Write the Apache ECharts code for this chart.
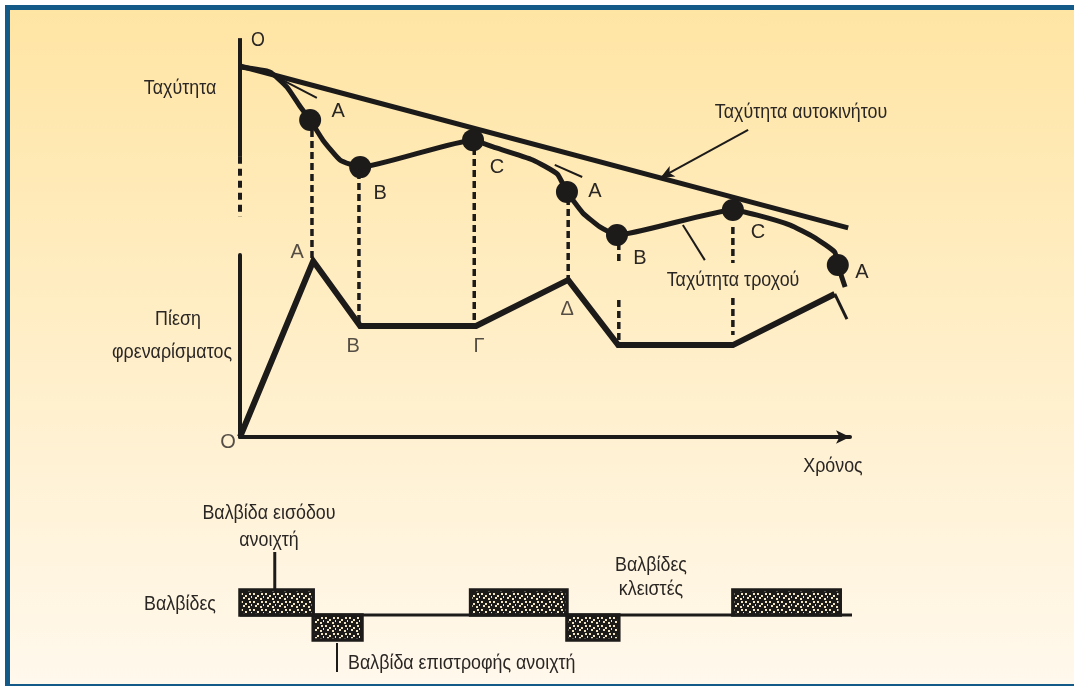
<!DOCTYPE html>
<html>
<head>
<meta charset="utf-8" />
<script type="text/javascript" src="https://cdn.jsdelivr.net/npm/echarts@6/dist/echarts.min.js"></script>
<title>ABS</title>
<style>
html,body{margin:0;padding:0;background:#fff;overflow:hidden;}
#frame{position:absolute;left:5px;top:5px;width:1069px;height:681px;box-sizing:border-box;
  border-top:5px solid #135a89;border-left:5px solid #135a89;border-bottom:2px solid #135a89;
  background:linear-gradient(#ffe5a4,#fff8ec);}
#chart{position:absolute;left:0;top:0;width:1074px;height:686px;}
</style>
<script>
// Ταχύτητα αυτοκινήτου (χρόνος 0..100)
var carTime = [0, 99.7];
var carSpeed = [91.6, 39.4];

// Ταχύτητα τροχού
var wheelTime  = [0, 4.9, 7.7, 9.8, 11.5, 13.6, 16.4, 19.7, 38.2, 41.5, 48, 52, 53.6, 56.2, 59, 61.8, 80.8, 84.8, 90.2, 94, 97.5, 98, 99.2];
var wheelSpeed = [91.3, 89.7, 84.8, 78.7, 74.2, 67.7, 61.3, 59, 67.7, 65.5, 61.3, 56.8, 51, 44.2, 39.7, 37.1, 45.2, 43.5, 40.3, 36.5, 31.6, 27.4, 20.3];

// σημεία A, B, C πάνω στην ταχύτητα τροχού
var pointNames = ['A', 'B', 'C', 'A', 'B', 'C', 'A'];
var pointTime  = [11.5, 19.7, 38.2, 53.6, 61.8, 80.8, 98];
var pointSpeed = [74.2, 59, 67.7, 51, 37.1, 45.2, 27.4];

// εφαπτόμενες στα σημεία A
var tangentTime  = [[4.4, 12.6], [51.6, 56.1]];
var tangentSpeed = [[89.7, 81.3], [59.7, 55.8]];

// Πίεση φρεναρίσματος
var pressTime = [0, 12, 19.7, 38.7, 53.8, 62, 80.8, 97.5];
var pressure  = [0, 96.7, 61, 61, 86.3, 50.5, 50.5, 78.6];
var pressTailTime = [97.5, 99.5];
var pressTail = [78.6, 64.8];
var pressNames = ['O', 'A', 'B', 'Γ', 'Δ'];

// κατακόρυφες διακεκομμένες (σε μονάδες ταχύτητας)
var dropTime   = [11.8, 19.5, 38.4, 53.8, 62.1, 62.1, 80.8, 80.8];
var dropTop    = [71, 57.4, 65.2, 49, 34.5, 16.1, 39.7, 16.8];
var dropBottom = [29.7, 8.1, 8.1, 23.2, 28.1, 2.3, 28.1, 4.8];

// άξονας ταχύτητας (συνεχές / διακεκομμένο κομμάτι)
var speedAxisSolid = [100.6, 62.3];
var speedAxisDash  = [62.3, 42.9];

// Βαλβίδες: 1 = εισόδου ανοιχτή, -1 = επιστροφής ανοιχτή
var valveStart = [0, 12, 37.8, 53.6, 80.8];
var valveEnd   = [12, 20, 53.6, 62.1, 98.4];
var valveState = [1, -1, 1, -1, 1];
var valveLineEnd = 101.3;
</script>
</head>
<body>
<div id="frame"></div>
<div id="chart"></div>
<script>
var INK = '#1d1b1a';
var TXT = '#2a2624';
var FONT = "'Liberation Sans',Arial,sans-serif";

function pairs(xs, ys) {
  var out = [];
  for (var i = 0; i < xs.length; i++) out.push([xs[i], ys[i]]);
  return out;
}

// μοτίβο για τα κουτιά των βαλβίδων
var pc = document.createElement('canvas');
pc.width = 12; pc.height = 8;
var pctx = pc.getContext('2d');
pctx.fillStyle = INK; pctx.fillRect(0, 0, 12, 8);
pctx.fillStyle = '#efe3c4';
[[1,1],[5,3],[9,1],[3,5],[8,6],[11,4]].forEach(function (d) { pctx.fillRect(d[0], d[1], 2, 2); });
var valvePattern = { image: pc, repeat: 'repeat' };

var chart = echarts.init(document.getElementById('chart'), null, { renderer: 'canvas' });
window.addEventListener('resize', function () { chart.resize(); });

var pointOffset = [[28,-8],[20,26],[24,27],[28,0],[23,23],[25,23],[24,7]];
var pressOffset = [[-12,5],[-16,-9],[-7,21],[3,21],[-1,30]];

var pointData = pointTime.map(function (t, i) {
  return { name: pointNames[i], value: [t, pointSpeed[i]], label: { offset: pointOffset[i] } };
});
var pressLabelData = pressNames.map(function (n, i) {
  return { name: n, value: [pressTime[i], pressure[i]], label: { offset: pressOffset[i] } };
});
var dropData = dropTime.map(function (t, i) { return [t, dropTop[i], dropBottom[i]]; });
var valveData = valveStart.map(function (s, i) { return [s, valveEnd[i], valveState[i]]; });

function renderDrop(params, api) {
  var a = api.coord([api.value(0), api.value(1)]);
  var b = api.coord([api.value(0), api.value(2)]);
  return { type: 'line', shape: { x1: a[0], y1: a[1], x2: b[0], y2: b[1] },
    style: { stroke: INK, lineWidth: 3.5, lineDash: [7, 4] } };
}
function renderValve(params, api) {
  var a = api.coord([api.value(0), 0]);
  var b = api.coord([api.value(1), api.value(2)]);
  return { type: 'rect',
    shape: { x: Math.min(a[0], b[0]), y: Math.min(a[1], b[1]), width: Math.abs(b[0] - a[0]), height: Math.abs(b[1] - a[1]) },
    style: { fill: valvePattern, stroke: INK, lineWidth: 3.5 } };
}

var labelStyle = { show: true, position: 'inside', formatter: '{b}', color: TXT, fontFamily: FONT, fontSize: 20 };
function txt(s, x, y, align) {
  return { type: 'text', x: x, y: y, scaleX: 0.85, silent: true,
    style: { text: s, fill: TXT, font: '21px ' + FONT, textAlign: align || 'center', textVerticalAlign: 'middle' } };
}
var hiddenAxis = { show: false, min: 0, max: 100 };

chart.setOption({
  animation: false,
  grid: [
    { left: 240, width: 610, top: 40, height: 310 },   // ταχύτητα
    { left: 240, width: 610, top: 255, height: 182 },  // πίεση
    { left: 240, width: 610, top: 590, height: 50 }    // βαλβίδες
  ],
  xAxis: [
    Object.assign({ type: 'value', gridIndex: 0 }, hiddenAxis),
    { type: 'value', gridIndex: 1, min: 0, max: 100,
      axisLine: { show: true, symbol: ['none', 'arrow'], symbolSize: [10, 14], lineStyle: { color: INK, width: 4 } },
      axisTick: { show: false }, axisLabel: { show: false }, splitLine: { show: false } },
    Object.assign({ type: 'value', gridIndex: 2 }, hiddenAxis)
  ],
  yAxis: [
    Object.assign({ type: 'value', gridIndex: 0 }, hiddenAxis),
    { type: 'value', gridIndex: 1, min: 0, max: 100,
      axisLine: { show: true, lineStyle: { color: INK, width: 4 } },
      axisTick: { show: false }, axisLabel: { show: false }, splitLine: { show: false } },
    { type: 'value', gridIndex: 2, min: -1, max: 1, show: false }
  ],
  series: [
    { type: 'line', xAxisIndex: 0, yAxisIndex: 0, clip: false, symbol: 'none',
      data: [[0, speedAxisSolid[0]], [0, speedAxisSolid[1]]], lineStyle: { color: INK, width: 4 } },
    { type: 'line', xAxisIndex: 0, yAxisIndex: 0, clip: false, symbol: 'none',
      data: [[0, speedAxisDash[0]], [0, speedAxisDash[1]]], lineStyle: { color: INK, width: 4, type: [7, 5] } },
    { type: 'custom', xAxisIndex: 0, yAxisIndex: 0, renderItem: renderDrop, data: dropData, z: 1 },
    { name: 'Ταχύτητα αυτοκινήτου', type: 'line', xAxisIndex: 0, yAxisIndex: 0, clip: false, symbol: 'none',
      data: pairs(carTime, carSpeed), lineStyle: { color: INK, width: 5 },
      markLine: { silent: true, symbol: ['none', 'arrow'], symbolSize: [9, 14], label: { show: false },
        lineStyle: { color: INK, width: 2, type: 'solid' },
        data: [[{ coord: [83.3, 71] }, { coord: [68.9, 55.5] }]] } },
    { name: 'Ταχύτητα τροχού', type: 'line', xAxisIndex: 0, yAxisIndex: 0, clip: false, symbol: 'none', smooth: 0.15,
      data: pairs(wheelTime, wheelSpeed), lineStyle: { color: INK, width: 5, join: 'round' },
      markLine: { silent: true, symbol: ['none', 'none'], label: { show: false },
        lineStyle: { color: INK, width: 2, type: 'solid' },
        data: [[{ coord: [76.2, 29] }, { coord: [72.6, 40.3] }]] } },
    { type: 'line', xAxisIndex: 0, yAxisIndex: 0, clip: false, symbol: 'none',
      data: pairs(tangentTime[0], tangentSpeed[0]), lineStyle: { color: INK, width: 2 } },
    { type: 'line', xAxisIndex: 0, yAxisIndex: 0, clip: false, symbol: 'none',
      data: pairs(tangentTime[1], tangentSpeed[1]), lineStyle: { color: INK, width: 2 } },
    { type: 'scatter', xAxisIndex: 0, yAxisIndex: 0, clip: false, symbolSize: 22,
      itemStyle: { color: INK, opacity: 1 }, label: labelStyle, data: pointData, z: 5 },
    { name: 'Πίεση φρεναρίσματος', type: 'line', xAxisIndex: 1, yAxisIndex: 1, clip: false, symbol: 'none',
      data: pairs(pressTime, pressure), lineStyle: { color: INK, width: 6, join: 'miter' } },
    { type: 'line', xAxisIndex: 1, yAxisIndex: 1, clip: false, symbol: 'none',
      data: pairs(pressTailTime, pressTail), lineStyle: { color: INK, width: 3 } },
    { type: 'scatter', xAxisIndex: 1, yAxisIndex: 1, clip: false, symbolSize: 1,
      itemStyle: { color: 'rgba(0,0,0,0)' }, label: labelStyle, data: pressLabelData },
    { type: 'line', xAxisIndex: 2, yAxisIndex: 2, clip: false, symbol: 'none',
      data: [[0, 0], [valveLineEnd, 0]], lineStyle: { color: INK, width: 3 } },
    { type: 'custom', xAxisIndex: 2, yAxisIndex: 2, renderItem: renderValve, data: valveData, z: 3 },
    { type: 'line', xAxisIndex: 2, yAxisIndex: 2, clip: false, symbol: 'none',
      data: [[5.7, 2.52], [5.7, 1]], lineStyle: { color: INK, width: 3 } },
    { type: 'line', xAxisIndex: 2, yAxisIndex: 2, clip: false, symbol: 'none',
      data: [[15.9, -1.12], [15.9, -2.28]], lineStyle: { color: INK, width: 2 } }
  ],
  graphic: [
    txt('O', 258, 40),
    txt('Ταχύτητα', 180, 88),
    txt('Ταχύτητα αυτοκινήτου', 801, 112),
    txt('Ταχύτητα τροχού', 733, 280),
    txt('Πίεση', 178, 319),
    txt('φρεναρίσματος', 172, 352),
    txt('Χρόνος', 833, 466),
    txt('Βαλβίδα εισόδου', 269, 513),
    txt('ανοιχτή', 269, 540),
    txt('Βαλβίδες', 180, 604),
    txt('Βαλβίδες', 651, 565),
    txt('κλειστές', 651, 589),
    txt('Βαλβίδα επιστροφής ανοιχτή', 348, 663, 'left')
  ]
});
</script>
</body>
</html>
